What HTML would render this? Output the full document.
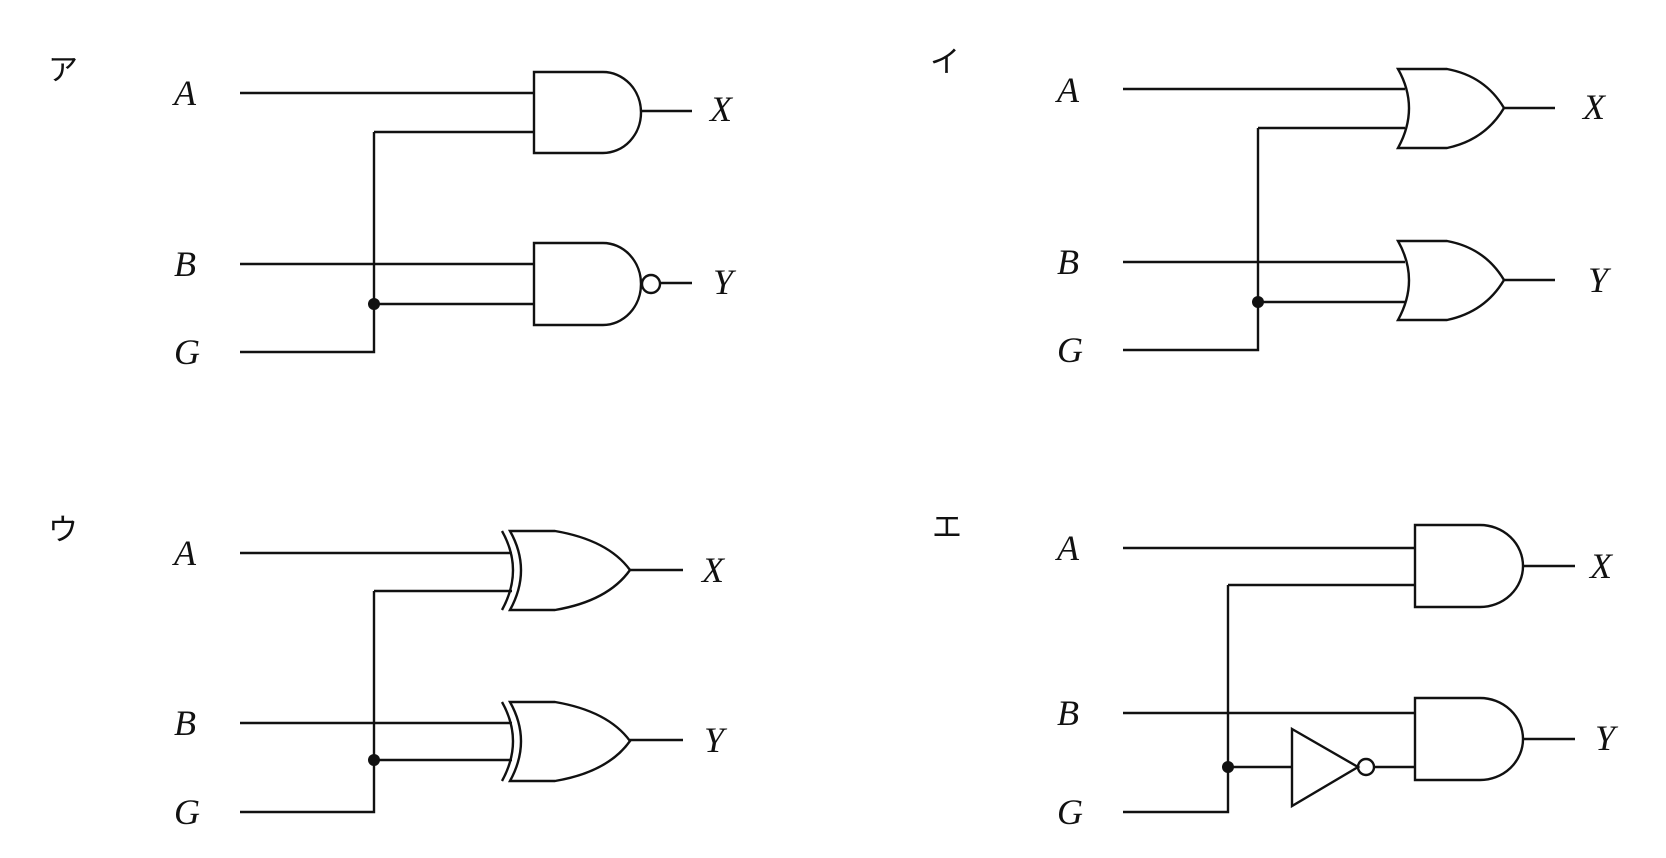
<!DOCTYPE html>
<html><head><meta charset="utf-8"><style>
html,body{margin:0;padding:0;background:#fff;}
svg{display:block;}
text{font-family:"Liberation Serif","Noto Serif CJK SC",serif;font-style:italic;font-size:36px;fill:#111;}
.k{font-style:normal;font-family:"Liberation Sans","Noto Sans CJK JP",sans-serif;font-size:30px;}
</style></head><body>
<svg width="1666" height="858" viewBox="0 0 1666 858" xmlns="http://www.w3.org/2000/svg">
<g fill="none" stroke="#111" stroke-width="2.4">
<!-- ア -->
<path d="M240 93H534 M374 132H534 M374 132V352H240 M240 264H534 M374 304H534 M641 111H692 M661 283H692"/>
<path d="M534 72H603A38 40.5 0 0 1 603 153H534Z"/>
<path d="M534 243H603A38 41 0 0 1 603 325H534Z"/>
<circle cx="651" cy="284" r="9"/>
<!-- イ -->
<path d="M1123 89H1405 M1258 128H1405 M1258 128V350H1123 M1123 262H1405 M1258 302H1405 M1504 108H1555 M1504 280H1555"/>
<path d="M1398 69H1447Q1485 76 1504 108Q1485 140 1447 148H1398Q1420 108 1398 69Z"/>
<path d="M1398 241H1447Q1485 248 1504 280Q1485 312 1447 320H1398Q1420 280 1398 241Z"/>
<!-- ウ -->
<path d="M240 553H512 M374 591H512 M374 591V812H240 M240 723H512 M374 760H512 M630 570H683 M630 740H683"/>
<path d="M510 531H555Q608 540 630 570Q608 601 555 610H510Q532 570 510 531Z"/>
<path d="M502 531Q524 570 502 610"/>
<path d="M510 702H555Q608 711 630 741Q608 772 555 781H510Q532 741 510 702Z"/>
<path d="M502 702Q524 741 502 781"/>
<!-- エ -->
<path d="M1123 548H1415 M1228 585H1415 M1228 585V812H1123 M1123 713H1415 M1228 767H1292 M1375 767H1415 M1523 566H1575 M1523 739H1575"/>
<path d="M1415 525H1480A43 41 0 0 1 1480 607H1415Z"/>
<path d="M1415 698H1480A43 41 0 0 1 1480 780H1415Z"/>
<path d="M1292 729L1358 767L1292 806Z"/>
<circle cx="1366" cy="767" r="8"/>
</g>
<g fill="#111">
<circle cx="374" cy="304" r="6"/>
<circle cx="1258" cy="302" r="6"/>
<circle cx="374" cy="760" r="6"/>
<circle cx="1228" cy="767" r="6"/>
</g>
<text class="k" x="48" y="80">ア</text>
<text class="k" x="930" y="72">イ</text>
<text class="k" x="48" y="540">ウ</text>
<text class="k" x="932" y="537">エ</text>
<text x="174" y="105">A</text><text x="174" y="276">B</text><text x="174" y="364">G</text>
<text x="710" y="121">X</text><text x="713" y="294">Y</text>
<text x="1057" y="102">A</text><text x="1057" y="274">B</text><text x="1057" y="362">G</text>
<text x="1583" y="119">X</text><text x="1588" y="292">Y</text>
<text x="174" y="565">A</text><text x="174" y="735">B</text><text x="174" y="824">G</text>
<text x="702" y="582">X</text><text x="704" y="752">Y</text>
<text x="1057" y="560">A</text><text x="1057" y="725">B</text><text x="1057" y="824">G</text>
<text x="1590" y="578">X</text><text x="1595" y="750">Y</text>
</svg>
</body></html>
